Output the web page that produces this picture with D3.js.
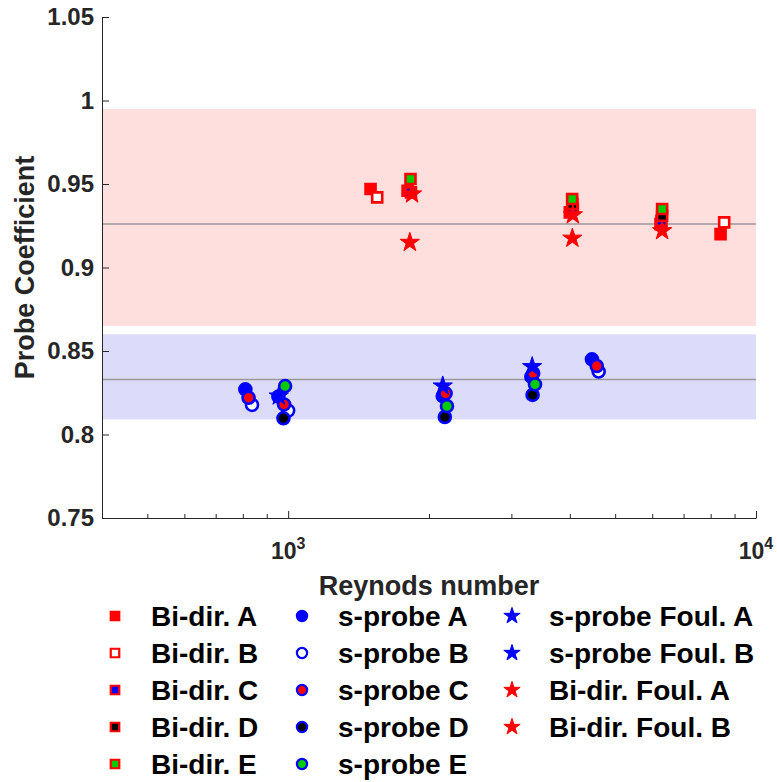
<!DOCTYPE html>
<html lang="en">
<head>
<meta charset="UTF-8">
<title>Probe Coefficient vs Reynolds number</title>
<style>
  body { margin: 0; background: #fff; }
  svg text { font-family: "Liberation Sans", Arial, sans-serif; font-weight: bold; }
</style>
</head>
<body>
<script src="https://d3js.org/d3.v7.min.js"></script>
<script>
const w = 777;
const h = 782;
const margin = {left: 102, right: 21, top: 17, bottom: 264};

// points are [Re, probe coefficient]
const biDirA = [[1500, 0.947], [1800, 0.946], [4000, 0.933], [6250, 0.926], [8400, 0.920]];
const biDirB = [[1550, 0.942], [8550, 0.927]];
const biDirC = [[1830, 0.945], [4060, 0.935], [6280, 0.928]];
const biDirD = [[4050, 0.938], [6300, 0.931]];
const biDirE = [[1826, 0.953], [4046, 0.941], [6300, 0.935]];
const sProbeA = [[810, 0.827], [953, 0.8227], [2140, 0.823], [3310, 0.8346], [4460, 0.845]];
const sProbeB = [[837, 0.8177], [1000, 0.8143], [4610, 0.8377]];
const sProbeC = [[823, 0.822], [980, 0.818], [2170, 0.8246], [3340, 0.8367], [4566, 0.841]];
const sProbeD = [[977, 0.8097], [2162, 0.8105], [3330, 0.8237]];
const sProbeE = [[985, 0.829], [2185, 0.817], [3370, 0.830]];
const sProbeFoulA = [[2140, 0.829], [3323, 0.8406]];
const sProbeFoulB = [[955, 0.823]];
const biDirFoulA = [[1820, 0.915], [4050, 0.9175]];
const biDirFoulB = [[1840, 0.944], [4060, 0.9315], [6300, 0.922]];

// reference bands and mean lines
const redBand = [0.865, 0.995];
const blueBand = [0.809, 0.86];
const meanLines = [0.926, 0.833];

const yTicks = [0.75, 0.8, 0.85, 0.9, 0.95, 1, 1.05];
const xMajor = [1000, 10000];
const xMinor = [500, 600, 700, 800, 900, 2000, 3000, 4000, 5000, 6000, 7000, 8000, 9000];

const series = [
  {label: "Bi-dir. A", data: biDirA, shape: "square", edge: "#ff0000", fill: "#ff0000"},
  {label: "Bi-dir. B", data: biDirB, shape: "square", edge: "#ff0000", fill: "#ffffff"},
  {label: "Bi-dir. C", data: biDirC, shape: "square", edge: "#ff0000", fill: "#0000ff"},
  {label: "Bi-dir. D", data: biDirD, shape: "square", edge: "#ff0000", fill: "#000000"},
  {label: "Bi-dir. E", data: biDirE, shape: "square", edge: "#ff0000", fill: "#00cc00"},
  {label: "s-probe A", data: sProbeA, shape: "circle", edge: "#0000ff", fill: "#0000ff"},
  {label: "s-probe B", data: sProbeB, shape: "circle", edge: "#0000ff", fill: "#ffffff"},
  {label: "s-probe C", data: sProbeC, shape: "circle", edge: "#0000ff", fill: "#ff0000"},
  {label: "s-probe D", data: sProbeD, shape: "circle", edge: "#0000ff", fill: "#000000"},
  {label: "s-probe E", data: sProbeE, shape: "circle", edge: "#0000ff", fill: "#00cc00"},
  {label: "s-probe Foul. A", data: sProbeFoulA, shape: "star", edge: "#0000ff", fill: "#0000ff"},
  {label: "s-probe Foul. B", data: sProbeFoulB, shape: "star", edge: "#0000ff", fill: "#0000ff"},
  {label: "Bi-dir. Foul. A", data: biDirFoulA, shape: "star", edge: "#ff0000", fill: "#ff0000"},
  {label: "Bi-dir. Foul. B", data: biDirFoulB, shape: "star", edge: "#ff0000", fill: "#ff0000"}
];

const svg = d3.select("body").append("svg")
  .attr("width", w)
  .attr("height", h);

const x = d3.scaleLog()
  .domain([400, 10000])
  .range([margin.left, w - margin.right]);

const y = d3.scaleLinear()
  .domain([0.75, 1.05])
  .range([h - margin.bottom, margin.top]);

// shaded bands
svg.append("rect")
  .attr("x", x(400)).attr("width", x(10000) - x(400))
  .attr("y", y(redBand[1])).attr("height", y(redBand[0]) - y(redBand[1]))
  .attr("fill", "#ffdede");
svg.append("rect")
  .attr("x", x(400)).attr("width", x(10000) - x(400))
  .attr("y", y(blueBand[1])).attr("height", y(blueBand[0]) - y(blueBand[1]))
  .attr("fill", "#dcdcfa");

svg.selectAll(".mean")
  .data(meanLines)
  .enter().append("line")
  .attr("class", "mean")
  .attr("x1", x(400)).attr("x2", x(10000))
  .attr("y1", d => y(d)).attr("y2", d => y(d))
  .attr("stroke", "#999").attr("stroke-width", 1.5);

// axes
const yAxis = svg.append("g")
  .attr("transform", `translate(${margin.left},0)`)
  .call(d3.axisLeft(y).tickValues(yTicks).tickSizeInner(-7).tickSizeOuter(0).tickPadding(9)
    .tickFormat(d => d3.format("")(+d.toFixed(2))));
yAxis.selectAll("text").style("font-size", "24px").attr("fill", "#262626").attr("x", -8);

const xAxis = svg.append("g")
  .attr("transform", `translate(0,${h - margin.bottom})`)
  .call(d3.axisBottom(x).tickValues(xMajor).tickSizeInner(-7).tickSizeOuter(0).tickFormat(""));
svg.append("g")
  .attr("transform", `translate(0,${h - margin.bottom})`)
  .call(d3.axisBottom(x).tickValues(xMinor).tickSizeInner(-4).tickSizeOuter(0).tickFormat(""))
  .select(".domain").remove();

svg.selectAll(".domain, .tick line").attr("stroke", "#262626");

const xLabels = svg.selectAll(".xlab")
  .data(xMajor)
  .enter().append("text")
  .attr("class", "xlab")
  .attr("x", d => x(d))
  .attr("y", 559)
  .attr("text-anchor", "middle")
  .attr("fill", "#262626")
  .style("font-size", "23px");
xLabels.append("tspan").text("10");
xLabels.append("tspan").attr("dy", -10).style("font-size", "16px").text(d => Math.log10(d));

svg.append("text")
  .attr("transform", `translate(34,${(y(0.75) + y(1.05)) / 2}) rotate(-90)`)
  .attr("text-anchor", "middle")
  .attr("fill", "#262626")
  .style("font-size", "27px")
  .text("Probe Coefficient");

svg.append("text")
  .attr("x", (x(400) + x(10000)) / 2)
  .attr("y", 595)
  .attr("text-anchor", "middle")
  .attr("fill", "#262626")
  .style("font-size", "27px")
  .text("Reynods number");

// markers
function drawMarker(g, s, scale) {
  if (s.shape === "circle") {
    g.append("circle").attr("r", 6 * scale)
      .attr("fill", s.fill).attr("stroke", s.edge).attr("stroke-width", 2.6 * scale);
  } else if (s.shape === "square") {
    g.append("path").attr("d", d3.symbol(d3.symbolSquare, 100 * scale * scale)())
      .attr("fill", s.fill).attr("stroke", s.edge).attr("stroke-width", 2.6 * scale);
  } else {
    g.append("path").attr("d", d3.symbol(d3.symbolStar, 115 * scale * scale)())
      .attr("fill", s.fill).attr("stroke", s.edge).attr("stroke-width", 1);
  }
}

series.forEach(s => {
  svg.append("g").selectAll("g")
    .data(s.data)
    .enter().append("g")
    .attr("transform", d => `translate(${x(d[0])},${y(d[1])})`)
    .each(function() { drawMarker(d3.select(this), s, 1); });
});

// legend, three columns
const legendCols = [{mx: 115, tx: 151}, {mx: 302, tx: 338}, {mx: 512, tx: 549}];
const legendSplit = [0, 5, 10, 14];
legendCols.forEach((col, ci) => {
  series.slice(legendSplit[ci], legendSplit[ci + 1]).forEach((s, i) => {
    const cy = 616 + i * 37;
    const g = svg.append("g").attr("transform", `translate(${col.mx},${cy})`);
    drawMarker(g, s, 0.85);
    svg.append("text")
      .attr("x", col.tx).attr("y", cy)
      .attr("dy", "0.36em")
      .attr("fill", "#000")
      .style("font-size", "28px")
      .text(s.label);
  });
});
</script>
</body>
</html>
